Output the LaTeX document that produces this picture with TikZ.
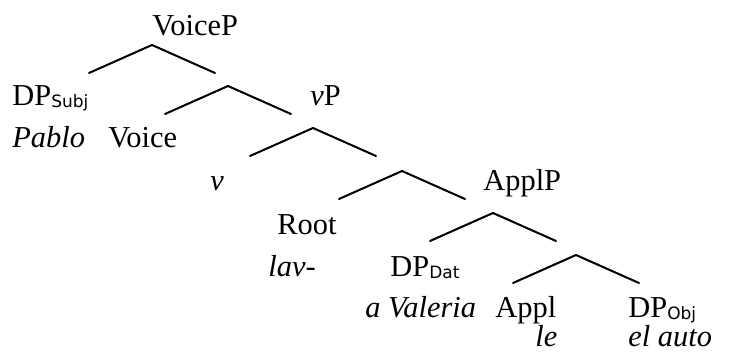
\documentclass[tikz,border=0pt]{standalone}
\usepackage{fontspec}
\setmainfont{Liberation Serif}
\newfontfamily\subfont{DejaVu Sans}

\newcommand{\treefont}{\fontsize{15.2}{18}\selectfont}
\newcommand{\lblsub}[1]{\raisebox{-0.8pt}{\fontsize{8.5}{10}\subfont\selectfont #1}}

\begin{document}
\begin{tikzpicture}[x=0.5pt, y=-0.5pt,
		lbl/.style={anchor=base west, inner sep=0pt, font=\treefont},
		wrd/.style={anchor=base west, inner sep=0pt, font=\treefont\itshape},
		branch/.style={line width=1pt, line cap=round}]
		\useasboundingbox (0,0) rectangle (732,356);

		% BRANCHES (apex, then both arms)
		\foreach \n/\x/\y in {a1/152/45, a2/228/86, a3/313/128, a4/402/171, a5/493/213, a6/576/255} {
			\coordinate (\n) at (\x,\y);
			\coordinate (\n l) at (\x-63,\y+28);
			\coordinate (\n r) at (\x+63,\y+28);
			\draw[branch] (\n l) -- (\n) -- (\n r);
		}

		% VOICEP
		\node[lbl] (voicep) at (152,36) {VoiceP};
		\node[lbl] (dpsubj) at (12,106) {DP\lblsub{Subj}};
		\node[wrd] (pablo) at (12,148) {Pablo};
		\node[lbl] (voice) at (108,148) {Voice};

		% VP
		\node[lbl] (vp) at (310,106) {\textit{v}P};
		\node[wrd] (v) at (210,191) {v};
		\node[lbl] (root) at (277,235) {Root};
		\node[wrd] (lav) at (268,277) {lav-};

		% APPLP
		\node[lbl] (applp) at (483,191) {ApplP};
		\node[lbl] (dpdat) at (390,277) {DP\lblsub{Dat}};
		\node[wrd] (valeria) at (365,318) {a Valeria};
		\node[lbl] (appl) at (495,318) {Appl};
		\node[wrd] (le) at (535,347) {le};
		\node[lbl] (dpobj) at (628,318) {DP\lblsub{Obj}};
		\node[wrd] (auto) at (628,347) {el auto};
	\end{tikzpicture}
\end{document}
